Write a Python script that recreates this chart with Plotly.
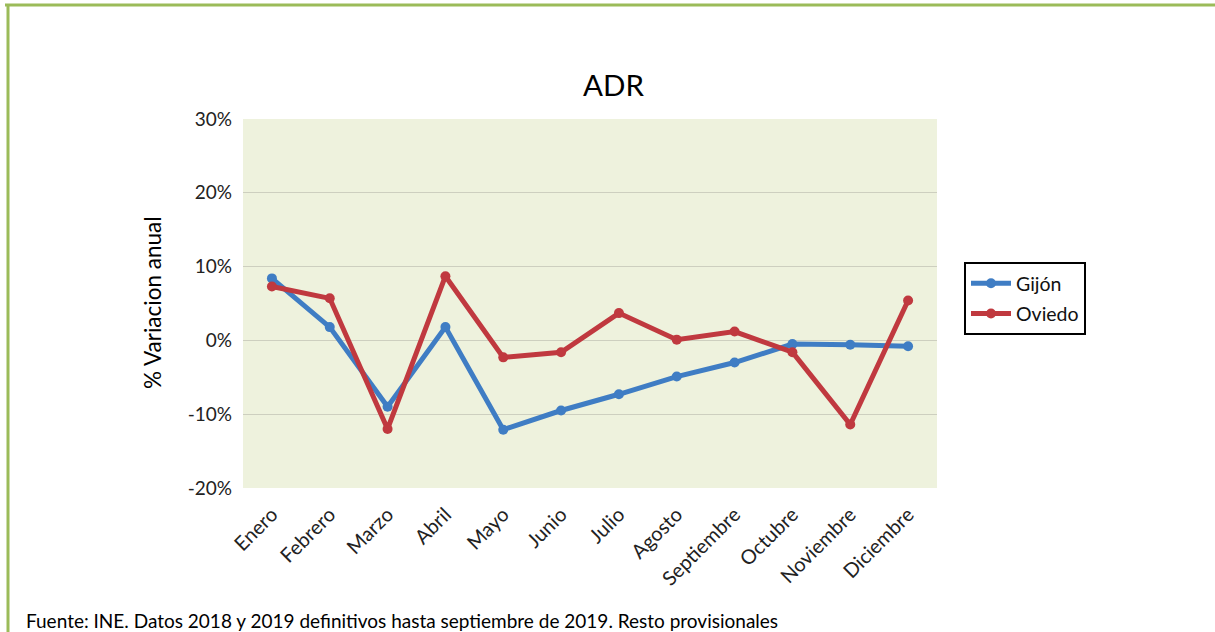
import plotly.graph_objects as go

months = ["Enero", "Febrero", "Marzo", "Abril", "Mayo", "Junio", "Julio",
          "Agosto", "Septiembre", "Octubre", "Noviembre", "Diciembre"]
gijon = [0.084, 0.018, -0.090, 0.018, -0.121, -0.095, -0.073,
         -0.049, -0.030, -0.005, -0.006, -0.008]
oviedo = [0.073, 0.057, -0.120, 0.087, -0.023, -0.016, 0.037,
          0.001, 0.012, -0.016, -0.114, 0.054]
y_ticks = [-0.2, -0.1, 0.0, 0.1, 0.2, 0.3]
y_tick_labels = ["-20%", "-10%", "0%", "10%", "20%", "30%"]

W, H = 1215, 632
L, R, T, B = 243, 278, 119, 144
pw, ph = W - L - R, H - T - B

def px(x):
    return (x - L) / pw

def py(y):
    return (H - B - y) / ph

FONT = "Lato"

fig = go.Figure()
fig.add_trace(go.Scatter(
    x=months, y=gijon, name="Gijón", mode="lines+markers", legendgroup="g",
    line=dict(color="#3f7dc4", width=5),
    marker=dict(symbol="circle", size=10, color="#3f7dc4"),
))
fig.add_trace(go.Scatter(
    x=months, y=oviedo, name="Oviedo", mode="lines+markers", legendgroup="o",
    line=dict(color="#c0393f", width=5),
    marker=dict(symbol="circle", size=10, color="#c0393f"),
))

fig.update_layout(
    width=W, height=H,
    margin=dict(l=L, r=R, t=T, b=B, pad=0),
    paper_bgcolor="white",
    plot_bgcolor="#eef2dd",
    font=dict(family=FONT, color="#222222"),
    showlegend=True,
    legend=dict(
        x=px(964), y=py(262), xanchor="left", yanchor="top",
        bordercolor="black", borderwidth=2, bgcolor="white",
        font=dict(size=19.5, color="#111111", family=FONT),
        tracegroupgap=2, itemwidth=40,
        entrywidth=130, entrywidthmode="pixels",
    ),
    xaxis=dict(
        type="category", range=[-0.5, 11.5],
        tickangle=-45, tickfont=dict(size=20, color="#222222"),
        showgrid=False, zeroline=False, showline=False, ticks="",
        ticklabelstandoff=10,
    ),
    yaxis=dict(
        range=[-0.2, 0.3], tickvals=y_ticks, ticktext=y_tick_labels,
        tickfont=dict(size=19, color="#222222"),
        showgrid=True, gridcolor="#cdcfbf", gridwidth=1,
        zeroline=False, showline=False, ticks="", ticklabelstandoff=10,
    ),
    annotations=[
        dict(text="ADR", x=px(613), y=py(85), xref="paper", yref="paper",
             showarrow=False, font=dict(size=29.5, color="black", family=FONT),
             xanchor="center", yanchor="middle"),
        dict(text="% Variacion anual", x=px(152), y=py(303), xref="paper", yref="paper",
             showarrow=False, textangle=-90,
             font=dict(size=22.5, color="black", family=FONT),
             xanchor="center", yanchor="middle"),
        dict(text="Fuente: INE. Datos 2018 y 2019 definitivos hasta septiembre de 2019. Resto provisionales",
             x=px(24), y=py(620), xref="paper", yref="paper",
             showarrow=False, font=dict(size=19, color="black", family=FONT),
             xanchor="left", yanchor="middle"),
    ],
    shapes=[
        dict(type="line", xref="paper", yref="paper",
             x0=px(5), x1=px(1216), y0=py(5), y1=py(5),
             line=dict(color="#9bbb59", width=3)),
        dict(type="line", xref="paper", yref="paper",
             x0=px(8), x1=px(8), y0=py(4), y1=py(640),
             line=dict(color="#9bbb59", width=3)),
    ],
)

fig.write_html("out.html", config={"displayModeBar": False},
               post_script="document.body.style.margin='0px';")
